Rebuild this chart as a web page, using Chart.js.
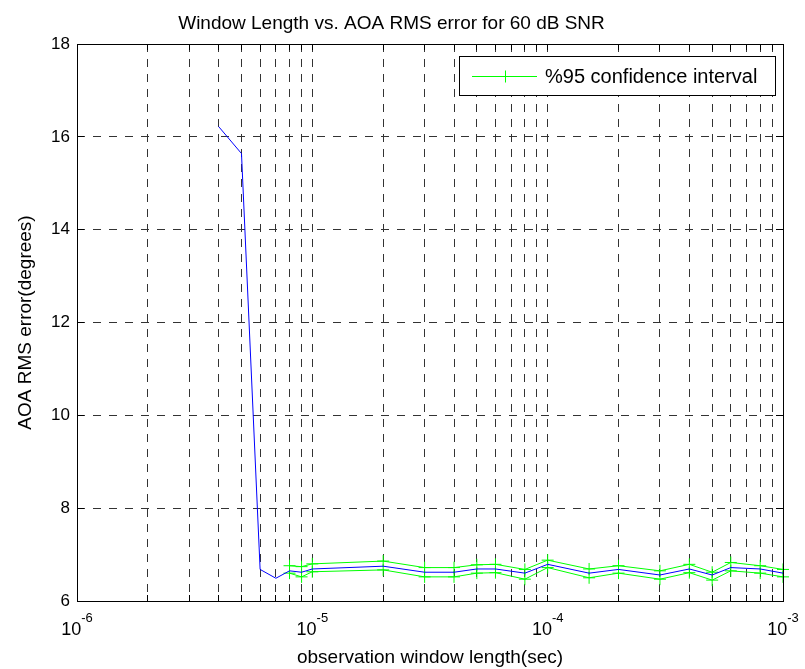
<!DOCTYPE html>
<html>
<head>
<meta charset="utf-8">
<title>Window Length vs. AOA RMS error</title>
<script src="https://cdn.jsdelivr.net/npm/chart.js@4.4.1/dist/chart.umd.min.js"></script>
<style>
  html, body { margin: 0; padding: 0; background: #fff; }
  canvas { display: block; }
</style>
</head>
<body>
<canvas id="rmsChart" width="805" height="669"></canvas>
<script>
// observation window length (sec)
const windowLen = [4e-6, 5e-6, 6e-6, 7e-6, 8e-6, 9e-6, 1e-5, 2e-5, 3e-5, 4e-5, 5e-5,
                   6e-5, 8e-5, 1e-4, 1.5e-4, 2e-4, 3e-4, 4e-4, 5e-4, 6e-4, 8e-4, 1e-3];
// AOA RMS error (degrees)
const rmsError = [16.22, 15.64, 6.68, 6.49, 6.65, 6.62, 6.69, 6.75, 6.62, 6.62, 6.69,
                  6.69, 6.60, 6.79, 6.60, 6.68, 6.56, 6.69, 6.56, 6.72, 6.69, 6.60];
// 95% confidence bounds (no interval for the shortest windows)
const ciUpper = [null, null, null, null, 6.76, 6.74, 6.80, 6.86, 6.72, 6.72, 6.78,
                 6.79, 6.68, 6.88, 6.69, 6.76, 6.65, 6.79, 6.62, 6.83, 6.76, 6.68];
const ciLower = [null, null, null, null, 6.60, 6.52, 6.63, 6.67, 6.52, 6.52, 6.60,
                 6.61, 6.47, 6.72, 6.50, 6.60, 6.47, 6.61, 6.45, 6.65, 6.60, 6.52];

// axis ticks
const xDecades = [1e-6, 1e-5, 1e-4, 1e-3];
const yTicks = [6, 8, 10, 12, 14, 16, 18];

const FONT = 'Arial, "Liberation Sans", Helvetica, sans-serif';
Chart.defaults.color = '#000';
Chart.defaults.font.family = FONT;

function toPoints(ys) {
  return windowLen.map((x, i) => ({x: x, y: ys[i]})).filter(p => p.y !== null);
}

// log grid: 1..9 in every decade
function decadeTicks() {
  const ticks = [];
  for (let d = 0; d < xDecades.length - 1; d++) {
    for (let m = 1; m < 10; m++) ticks.push({value: m * xDecades[d]});
  }
  ticks.push({value: xDecades[xDecades.length - 1]});
  return ticks;
}

function crisp(px) {
  return Math.round(px - 0.5) + 0.5;
}

// box, inward tick marks, 10^n labels and the boxed legend
const axesBox = {
  id: 'axesBox',
  afterDraw(chart) {
    const ctx = chart.ctx;
    const {left, right, top, bottom} = chart.chartArea;
    const xs = chart.scales.x;
    const ys = chart.scales.y;
    ctx.save();
    ctx.strokeStyle = '#000';
    ctx.lineWidth = 1;

    ctx.beginPath();
    xs.ticks.forEach(t => {
      const px = crisp(xs.getPixelForValue(t.value));
      ctx.moveTo(px, bottom); ctx.lineTo(px, bottom - 6);
      ctx.moveTo(px, top); ctx.lineTo(px, top + 6);
    });
    ys.ticks.forEach(t => {
      const py = crisp(ys.getPixelForValue(t.value));
      ctx.moveTo(left, py); ctx.lineTo(left + 7, py);
      ctx.moveTo(right, py); ctx.lineTo(right - 7, py);
    });
    ctx.stroke();
    ctx.strokeRect(crisp(left), crisp(top), Math.round(right - left), Math.round(bottom - top));

    // decade labels with superscript exponent
    ctx.fillStyle = '#000';
    ctx.textBaseline = 'alphabetic';
    ctx.textAlign = 'left';
    xDecades.forEach(v => {
      const px = xs.getPixelForValue(v);
      const exp = String(Math.round(Math.log10(v)));
      ctx.font = '18px ' + FONT;
      const wb = ctx.measureText('10').width;
      ctx.font = '13px ' + FONT;
      const we = ctx.measureText(exp).width;
      const x0 = px - (wb + we) / 2;
      ctx.font = '18px ' + FONT;
      ctx.fillText('10', x0, bottom + 34);
      ctx.font = '13px ' + FONT;
      ctx.fillText(exp, x0 + wb, bottom + 21);
    });

    // legend
    const ds = chart.data.datasets[1];
    const bw = 316, bh = 39;
    const bx = Math.round(right - 8 - bw);
    const by = Math.round(top + 12);
    ctx.fillStyle = '#fff';
    ctx.fillRect(bx, by, bw, bh);
    ctx.strokeRect(bx + 0.5, by + 0.5, bw, bh);
    const ly = by + 20.5;
    const cx = bx + 46;
    ctx.strokeStyle = ds.borderColor;
    ctx.beginPath();
    ctx.moveTo(bx + 13, ly); ctx.lineTo(bx + 78, ly);
    ctx.moveTo(cx - 6, ly); ctx.lineTo(cx + 6, ly);
    ctx.moveTo(cx + 0.5, ly - 6); ctx.lineTo(cx + 0.5, ly + 6);
    ctx.stroke();
    ctx.fillStyle = '#000';
    ctx.font = '20px ' + FONT;
    ctx.textBaseline = 'middle';
    ctx.fillText(ds.label, bx + 86, ly + 1);
    ctx.restore();
  }
};

const ciStyle = {
  borderColor: '#00ff00',
  borderWidth: 1,
  pointStyle: 'cross',
  pointRadius: 6,
  pointBorderColor: '#00ff00',
  pointBorderWidth: 1,
  clip: false
};

new Chart(document.getElementById('rmsChart'), {
  type: 'line',
  data: {
    datasets: [
      {
        label: 'AOA RMS error',
        data: toPoints(rmsError),
        borderColor: '#0000ff',
        borderWidth: 1,
        pointRadius: 0,
        tension: 0
      },
      Object.assign({label: '%95 confidence interval', data: toPoints(ciUpper)}, ciStyle),
      Object.assign({label: '%95 confidence interval (lower)', data: toPoints(ciLower)}, ciStyle)
    ]
  },
  options: {
    responsive: false,
    animation: false,
    events: [],
    layout: {padding: {left: 0, right: 22, top: 0, bottom: 0}},
    plugins: {
      legend: {display: false},
      tooltip: {enabled: false},
      title: {
        display: true,
        text: 'Window Length vs. AOA RMS error for 60 dB SNR',
        color: '#000',
        font: {size: 19, weight: 'normal'},
        padding: {top: 12.6, bottom: 8.6}
      }
    },
    scales: {
      x: {
        type: 'logarithmic',
        min: 1e-6,
        max: 1e-3,
        afterBuildTicks: s => { s.ticks = decadeTicks(); },
        afterFit: s => { s.height = 68; },
        ticks: {display: false, autoSkip: false},
        grid: {color: '#333', lineWidth: 1, drawTicks: false},
        border: {display: false, dash: [8, 7]},
        title: {
          display: true,
          text: 'observation window length(sec)',
          font: {size: 19},
          padding: {top: 0, bottom: 0}
        }
      },
      y: {
        min: 6,
        max: 18,
        afterBuildTicks: s => { s.ticks = yTicks.map(v => ({value: v})); },
        afterFit: s => { s.width = 77; },
        ticks: {font: {size: 17}, padding: 7},
        grid: {color: '#333', lineWidth: 1, drawTicks: false},
        border: {display: false, dash: [8, 8]},
        title: {
          display: true,
          text: 'AOA RMS error(degrees)',
          font: {size: 19},
          padding: {top: 14.6, bottom: 0}
        }
      }
    }
  },
  plugins: [axesBox]
});
</script>
</body>
</html>
